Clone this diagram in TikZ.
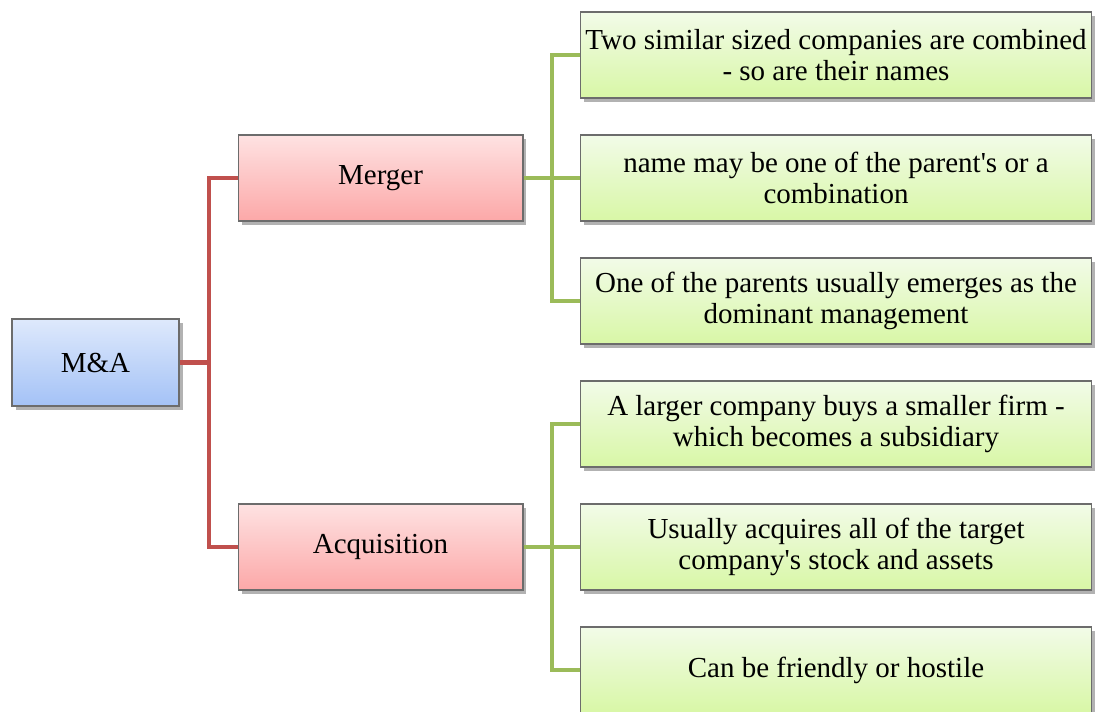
\documentclass[tikz,border=0pt]{standalone}
\usepackage{fontspec}
\setmainfont{Liberation Serif}
\usetikzlibrary{shadows}

\definecolor{blauoben}{HTML}{DEE9FC}
\definecolor{blauunten}{HTML}{A4C2F6}
\definecolor{rotoben}{HTML}{FEE2E2}
\definecolor{rotunten}{HTML}{FCA8A8}
\definecolor{gruenoben}{HTML}{F2FBE8}
\definecolor{gruenunten}{HTML}{D8F7A6}
\definecolor{rotlinie}{HTML}{C0504D}
\definecolor{gruenlinie}{HTML}{9BBB59}

\tikzset{
  kasten/.style={draw=gray!85!black, line width=0.6pt, align=center, inner sep=2pt,
    font=\fontsize{16.5}{18}\selectfont,
    drop shadow={shadow xshift=2pt, shadow yshift=-2.5pt, opacity=0.3, fill=black}},
  wurzel/.style={kasten, top color=blauoben, bottom color=blauunten,
    minimum width=3.34cm, minimum height=1.74cm},
  zweig/.style={kasten, top color=rotoben, bottom color=rotunten,
    minimum width=5.7cm, minimum height=1.72cm},
  blatt/.style={kasten, top color=gruenoben, bottom color=gruenunten,
    minimum width=10.24cm, minimum height=1.72cm},
  rotast/.style={rotlinie, line width=2.3pt},
  gruenast/.style={gruenlinie, line width=2.3pt}
}

\begin{document}
\begin{tikzpicture}[x=0.02cm,y=-0.02cm]
  \useasboundingbox (0,0) rectangle (1097,711);

  % Hilfspunkte fuer die Aeste
  \coordinate (rotx) at (209,0);
  \coordinate (gruenx) at (552,0);

  % Kaesten
  \node[wurzel] (ma) at (95.5,362.5) {M\&A};
  \node[zweig] (merger) at (380.5,178) {Merger};
  \node[zweig] (acq) at (380.5,547) {Acquisition};

  \node[blatt] (m1) at (836,55) {Two similar sized companies are combined\\- so are their names};
  \node[blatt] (m2) at (836,178) {name may be one of the parent\textquotesingle s or a\\combination};
  \node[blatt] (m3) at (836,301) {One of the parents usually emerges as the\\dominant management};
  \node[blatt] (a1) at (836,424) {A larger company buys a smaller firm -\\which becomes a subsidiary};
  \node[blatt] (a2) at (836,547) {Usually acquires all of the target\\company\textquotesingle s stock and assets};
  \node[blatt] (a3) at (836,670) {Can be friendly or hostile};

  % Aeste
  \draw[rotast] (ma.east) -- (ma.east -| rotx);
  \foreach \z in {merger,acq} {
      \draw[rotast] (ma.east -| rotx) |- (\z.west);
  }
  \foreach \z in {m1,m2,m3} {
      \draw[gruenast] (merger.east) -- (merger.east -| gruenx) |- (\z.west);
  }
  \foreach \z in {a1,a2,a3} {
      \draw[gruenast] (acq.east) -- (acq.east -| gruenx) |- (\z.west);
  }
\end{tikzpicture}
\end{document}
